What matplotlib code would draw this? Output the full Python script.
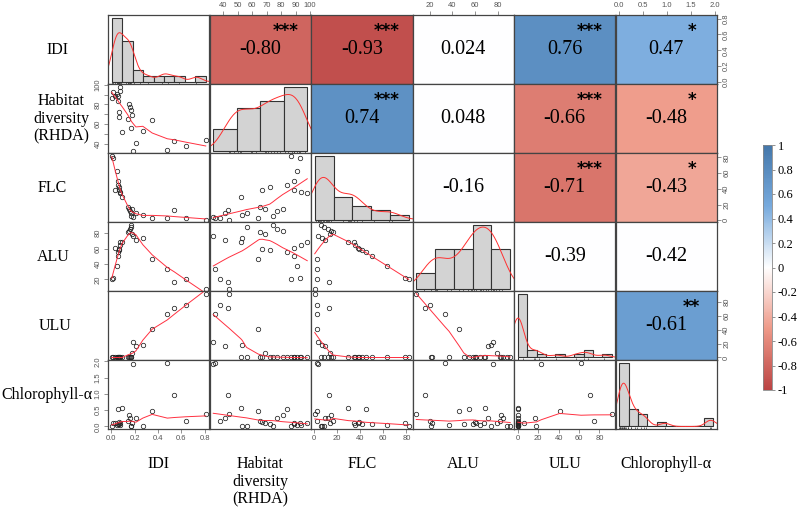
import numpy as np
import matplotlib
matplotlib.use("Agg")
import matplotlib.pyplot as plt
from matplotlib.colors import LinearSegmentedColormap, Normalize
from matplotlib.cm import ScalarMappable

# ---- data (25 sites) ----
names = ["IDI", "Habitat\ndiversity\n(RHDA)", "FLC", "ALU", "ULU", "Chlorophyll-α"]

idi = [0.003, 0.012, 0.031, 0.048, 0.054, 0.060, 0.063, 0.068, 0.072, 0.077, 0.092,
       0.140, 0.152, 0.160, 0.165, 0.170, 0.177, 0.183,
       0.21, 0.27, 0.35, 0.48, 0.54, 0.64, 0.81]
rhda = [87, 93, 89, 91, 89, 84, 72, 67, 94, 98, 52,
        65, 81, 77, 56, 74, 69, 33,
        41, 53, 64, 34, 43, 38, 44]
flc = [82, 79, 38, 63, 50, 45, 42, 39, 36, 35, 30,
       17, 15, 12, 9, 6, 14, 4,
       10, 7, 3, 3, 13, 3, 1]
alu = [21, 22, 61, 37, 50, 55, 58, 59.5, 64, 68, 69,
       82, 83, 85, 88, 91, 79, 76,
       71, 74, 46, 33, 16, 20, 8]
ulu = [0, 0, 0, 0, 0, 0, 0, 0, 0, 0, 0,
       0, 0, 0, 0, 0, 6, 23,
       17, 18, 41, 62, 71, 75, 92]
chl = [0.02, 0.10, 0.12, 0.05, 0.08, 0.53, 0.06, 0.14, 0.04, 0.11, 0.57,
       0.18, 0.34, 0.26, 0.0, 0.02, 0.10, 1.93,
       0.26, 0.02, 0.46, 1.96, 0.97, 0.18, 0.37]

# histogram breaks and axis ticks for each variable
breaks = [np.arange(0, 0.91, 0.1), np.arange(20, 101, 20), np.arange(0, 101, 20),
          np.arange(0, 101, 20), np.arange(0, 101, 10), np.arange(0, 2.01, 0.2)]
ticks = [[0, 0.2, 0.4, 0.6, 0.8], [40, 50, 60, 70, 80, 90, 100], [0, 20, 40, 60, 80],
         [20, 40, 60, 80], [0, 20, 40, 60, 80], [0, 0.5, 1.0, 1.5, 2.0]]
tickfmt = ["%.1f", "%d", "%d", "%d", "%d", "%.1f"]

# upper triangle: displayed r, stars, and cell shade
upper_cells = [(0, 1), (0, 2), (0, 3), (0, 4), (0, 5),
               (1, 2), (1, 3), (1, 4), (1, 5),
               (2, 3), (2, 4), (2, 5),
               (3, 4), (3, 5),
               (4, 5)]
upper_r = ["-0.80", "-0.93", "0.024", "0.76", "0.47",
           "0.74", "0.048", "-0.66", "-0.48",
           "-0.16", "-0.71", "-0.43",
           "-0.39", "-0.42",
           "-0.61"]
upper_stars = ["***", "***", "", "***", "*",
               "***", "", "***", "*",
               "", "***", "*",
               "", "",
               "**"]
upper_shade = [-0.80, -0.93, 0, 0.76, 0.47,
               0.74, 0, -0.66, -0.48,
               0, -0.71, -0.43,
               0, 0,
               0.61]

cbar_ticks = [1, 0.8, 0.6, 0.4, 0.2, 0, -0.2, -0.4, -0.6, -0.8, -1]

data = [np.array(v, float) for v in (idi, rhda, flc, alu, ulu, chl)]
nv = len(data)

cmap = LinearSegmentedColormap.from_list(
    "corr", ["#BB4444", "#EE9988", "#FFFFFF", "#77AADD", "#4477AA"])
norm = Normalize(-1, 1)


def lowess(x, y, f=2/3, iters=3):
    o = np.argsort(x, kind="mergesort")
    x, y = x[o], y[o]
    n = len(x)
    ns = max(min(int(round(f * n)), n), 2)
    rw = np.ones(n)
    fit = np.zeros(n)
    for it in range(iters + 1):
        for i in range(n):
            d = np.abs(x - x[i])
            h = max(np.sort(d)[ns - 1], 1e-12)
            u = np.clip(d / h, 0, 1)
            w = (1 - u ** 3) ** 3 * rw
            sw = w.sum()
            if sw <= 0:
                fit[i] = y[i]
                continue
            xm = (w * x).sum() / sw
            ym = (w * y).sum() / sw
            c = (w * (x - xm) ** 2).sum()
            if np.sqrt(c / sw) > 0.001 * (x[-1] - x[0]):
                fit[i] = ym + (w * (x - xm) * (y - ym)).sum() / c * (x[i] - xm)
            else:
                fit[i] = ym
        if it == iters:
            break
        res = y - fit
        s = np.median(np.abs(res))
        if s < 1e-7 * np.mean(np.abs(y)):
            break
        u = np.clip(np.abs(res) / (6 * s), 0, 1)
        rw = (1 - u ** 2) ** 2
    return x, fit


def density(v):
    n = len(v)
    sd = v.std(ddof=1)
    iqr = np.subtract(*np.percentile(v, [75, 25]))
    lo = min(sd, iqr / 1.34) if iqr > 0 else sd
    bw = 0.9 * lo * n ** -0.2
    g = np.linspace(v.min() - 3 * bw, v.max() + 3 * bw, 512)
    d = np.exp(-0.5 * ((g[:, None] - v[None, :]) / bw) ** 2).sum(1) / (n * bw * np.sqrt(2 * np.pi))
    return g, d


def rng(v):
    r = v.max() - v.min()
    return v.min() - 0.04 * r, v.max() + 0.04 * r


W, H = 800, 512
fig = plt.figure(figsize=(8, 5.12), dpi=100)
x0, x1, y0, y1 = 108, 717, 15.3, 429
cw, ch = (x1 - x0) / nv, (y1 - y0) / nv
edge = "#444444"
tickkw = dict(length=3, width=0.5, color="#666666", labelsize=5.5,
              labelcolor="#555555", pad=1.5)

for i in range(nv):
    for j in range(nv):
        ax = fig.add_axes([(x0 + j * cw) / W, 1 - (y0 + (i + 1) * ch) / H, cw / W, ch / H])
        for s in ax.spines.values():
            s.set_color(edge)
            s.set_linewidth(0.9)
        ax.set_xlim(*rng(data[j]))
        ax.set_ylim(*rng(data[i]))
        ax.tick_params(left=False, bottom=False, labelleft=False, labelbottom=False)

        if i == j:
            v = data[i]
            b = breaks[i]
            cnt, _ = np.histogram(v, bins=b)
            dens = cnt / (len(v) * np.diff(b))
            m = dens.max()
            ax.bar(b[:-1], dens, width=np.diff(b), align="edge",
                   color="#D3D3D3", edgecolor="#333333", linewidth=0.8)
            span = b[-1] - b[0]
            ax.set_xlim(b[0] - 0.04 * span, b[-1] + 0.04 * span)
            ylo, yhi = -0.04 * m, 1.04 * m
            ax.set_ylim(ylo, yhi)
            g, d = density(v)
            ax.plot(g, d, color="#FF3030", lw=0.7)
            ax.vlines(v, ylo, ylo + 0.03 * (yhi - ylo), color="#333333", lw=0.5)
        elif i > j:
            ax.plot(data[j], data[i], "o", mfc="none", mec="#222222", ms=3.2, mew=0.55)
            sx, sy = lowess(data[j], data[i])
            ax.plot(sx, sy, color="#FF3040", lw=0.7)
        else:
            k = upper_cells.index((i, j))
            ax.set_facecolor(cmap(norm(upper_shade[k])))
            ax.text(0.5, 0.5, upper_r[k], transform=ax.transAxes, ha="center", va="center",
                    fontsize=14.5, family="Liberation Serif", color="black")
            if upper_stars[k]:
                ax.text(0.75, 0.77, upper_stars[k], transform=ax.transAxes, ha="center",
                        va="center", fontsize=12, fontweight="bold", color="black",
                        family="DejaVu Sans")

        # outer axes, alternating like pairs()
        if i == 0 and j % 2 == 1:
            ax.xaxis.tick_top()
            ax.set_xticks(ticks[j])
            ax.set_xticklabels([tickfmt[j] % t for t in ticks[j]], family="Liberation Sans")
            ax.tick_params(axis="x", top=True, labeltop=True, **tickkw)
        if i == nv - 1 and j % 2 == 0:
            ax.set_xticks(ticks[j])
            ax.set_xticklabels([tickfmt[j] % t for t in ticks[j]], family="Liberation Sans")
            ax.tick_params(axis="x", bottom=True, labelbottom=True, **tickkw)
        if j == 0 and i % 2 == 1:
            ax.set_yticks(ticks[i])
            labs = [tickfmt[i] % t for t in ticks[i]]
            if i == 1:
                labs = [l if int(l) % 20 == 0 else "" for l in labs]
            ax.set_yticklabels(labs, family="Liberation Sans", rotation=90, va="center")
            ax.tick_params(axis="y", left=True, labelleft=True, **tickkw)
        if j == nv - 1 and i % 2 == 0:
            ax.yaxis.tick_right()
            ax.set_yticks(ticks[i])
            ax.set_yticklabels([tickfmt[i] % t for t in ticks[i]], family="Liberation Sans",
                               rotation=90, va="center")
            ax.tick_params(axis="y", right=True, labelright=True, **tickkw)

# variable names, left and bottom
left_x = [57, 61, 52, 53, 55, 47]
for i, nm in enumerate(names):
    fig.text(left_x[i] / W, 1 - (y0 + (i + 0.5) * ch) / H, nm, ha="center", va="center",
             fontsize=11.5, family="Liberation Serif", linespacing=1.15)
    fig.text((x0 + i * cw + cw / 2) / W, 1 - 456 / H, nm, ha="center", va="top",
             fontsize=11.5, family="Liberation Serif", linespacing=1.15)

# colour bar
cax = fig.add_axes([763 / W, 1 - 390 / H, 9 / W, 245 / H])
cb = fig.colorbar(ScalarMappable(norm=norm, cmap=cmap), cax=cax, ticks=cbar_ticks)
cb.outline.set_edgecolor("#888888")
cb.outline.set_linewidth(0.6)
cax.set_yticklabels(["%g" % t for t in cbar_ticks], family="Liberation Serif", fontsize=9)
cax.tick_params(length=2, width=0.5, color="#666666", pad=2)

fig.savefig("out.png", dpi=100)
